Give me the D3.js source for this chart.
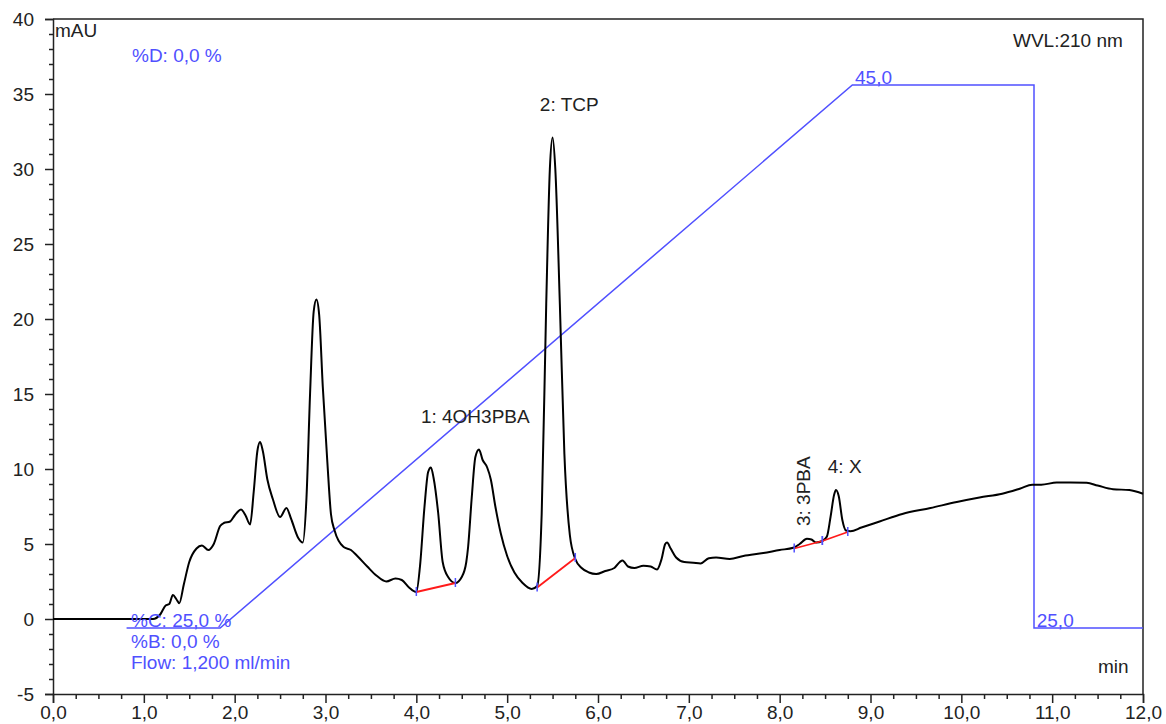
<html lang="en">
<head>
<meta charset="utf-8">
<title>Chromatogram</title>
<script src="https://cdn.jsdelivr.net/npm/d3@7"></script>
<style>
  body { margin: 0; background: white; }
  text { font-family: "Liberation Sans", Arial, sans-serif; }
</style>
</head>
<body></body>
<script type="text/javascript">

//****************************************************************************************************************************//
// Data

var timeMin = [0.00, 1.10, 1.18, 1.24, 1.28, 1.32, 1.36, 1.39, 1.44, 1.50, 1.58, 1.64, 1.71, 1.77, 1.84, 1.88, 1.95, 2.00,
               2.07, 2.12, 2.17, 2.21, 2.25, 2.28, 2.31, 2.36, 2.42, 2.50, 2.57, 2.62, 2.70, 2.75, 2.79, 2.83, 2.87, 2.90,
               2.93, 2.97, 3.02, 3.06, 3.10, 3.20, 3.28, 3.35, 3.46, 3.56, 3.67, 3.77, 3.84, 3.92, 4.00, 4.04, 4.09, 4.13,
               4.16, 4.19, 4.24, 4.29, 4.35, 4.43, 4.50, 4.55, 4.57, 4.61, 4.65, 4.69, 4.73, 4.78, 4.82, 4.87, 4.93, 5.00,
               5.08, 5.17, 5.27, 5.33, 5.38, 5.43, 5.47, 5.50, 5.53, 5.58, 5.63, 5.69, 5.75, 5.82, 5.90, 5.98, 6.08, 6.18,
               6.24, 6.27, 6.33, 6.40, 6.50, 6.58, 6.65, 6.70, 6.74, 6.76, 6.80, 6.86, 6.95, 7.05, 7.13, 7.22, 7.30, 7.45,
               7.60, 7.82, 8.00, 8.15, 8.22, 8.30, 8.35, 8.40, 8.47, 8.52, 8.56, 8.60, 8.62, 8.65, 8.69, 8.73, 8.78, 8.90,
               9.10, 9.35, 9.66, 9.95, 10.20, 10.45, 10.65, 10.78, 10.88, 11.05, 11.20, 11.38, 11.50, 11.67, 11.85, 12.00];

var absMAU  = [0.0, 0.0, 0.3, 0.9, 1.0, 1.6, 1.3, 1.05, 2.3, 3.8, 4.7, 4.9, 4.6, 5.0, 6.2, 6.4, 6.5, 6.9,
               7.3, 6.9, 6.3, 8.5, 11.2, 11.8, 11.2, 9.3, 8.0, 6.8, 7.4, 6.7, 5.4, 5.1, 8.0, 15.0, 20.5, 21.3,
               20.3, 15.5, 10.5, 7.0, 5.9, 4.8, 4.6, 4.2, 3.5, 2.9, 2.5, 2.7, 2.6, 2.1, 1.8, 3.5, 7.5, 9.8,
               10.1, 9.4, 7.1, 3.8, 2.8, 2.4, 2.8, 3.8, 4.8, 8.1, 10.8, 11.3, 10.6, 10.1, 9.3, 7.5, 5.7, 4.2,
               3.1, 2.4, 2.0, 2.2, 7.0, 21.0, 30.0, 32.1, 30.0, 21.0, 11.0, 5.6, 4.0, 3.4, 3.1, 3.0, 3.2, 3.4,
               3.8, 3.9, 3.5, 3.4, 3.55, 3.5, 3.3, 4.0, 5.0, 5.1, 4.7, 4.1, 3.8, 3.75, 3.7, 4.05, 4.1, 4.0,
               4.2, 4.4, 4.6, 4.75, 5.0, 5.35, 5.3, 5.1, 5.2, 5.5, 6.8, 8.3, 8.6, 8.2, 6.6, 5.9, 5.85, 6.1,
               6.5, 7.0, 7.4, 7.8, 8.1, 8.35, 8.7, 8.95, 8.95, 9.1, 9.1, 9.08, 8.9, 8.65, 8.6, 8.35];

// gradient program (%C)
var gradTime = [0.81, 1.84, 8.80, 10.80, 10.80, 12.00];
var gradPct  = [25, 25, 45, 45, 25, 25];

// integrated peaks
var peakNames  = ["1: 4OH3PBA", "2: TCP", "3: 3PBA", "4: X"];
var baseStartT = [4.00, 5.33, 8.16, 8.47];
var baseStartV = [1.8, 2.1, 4.7, 5.2];
var baseEndT   = [4.43, 5.75, 8.47, 8.75];
var baseEndV   = [2.4, 4.07, 5.2, 5.8];

// axes
var xTicks = [0, 1, 2, 3, 4, 5, 6, 7, 8, 9, 10, 11, 12];
var yTicks = [-5, 0, 5, 10, 15, 20, 25, 30, 35, 40];

//****************************************************************************************************************************//
// Canvas

var width = 1166,
    height = 724;

var blue = "#5050ff",
    ink = "#222",
    fontSize = "19px";

var canvas = d3.select("body")
            .append("svg")
            .attr("width", width)
            .attr("height", height);

canvas.append("rect")
        .attr("width", width)
        .attr("height", height)
        .attr("fill", "white");

var x = d3.scaleLinear().domain([0, 12]).range([53, 1143]);
var y = d3.scaleLinear().domain([-5, 40]).range([694, 19]);
var pct = d3.scaleLinear().domain([25, 45]).range([y(-0.6), y(35.6)]);

var comma = function(d){ return d3.format(".1f")(d).replace(".", ","); };

//****************************************************************************************************************************//
// Axes

var minorX = d3.range(0, 12.001, 0.25).filter(function(d){ return Math.abs(d - Math.round(d)) > 0.01; });
var minorY = d3.range(-5, 40.001, 1).filter(function(d){ return d % 5 != 0; });

canvas.append("g")
        .attr("transform", "translate(0," + y(-5) + ")")
        .call(d3.axisBottom(x).tickValues(minorX).tickSize(5).tickFormat(""))
        .call(function(g){ g.select(".domain").remove(); });

canvas.append("g")
        .attr("transform", "translate(" + x(0) + ",0)")
        .call(d3.axisLeft(y).tickValues(minorY).tickSize(4).tickFormat(""))
        .call(function(g){ g.select(".domain").remove(); });

var xAxis = canvas.append("g")
        .attr("transform", "translate(0," + y(-5) + ")")
        .call(d3.axisBottom(x).tickValues(xTicks).tickSize(9).tickPadding(3).tickFormat(comma));

var yAxis = canvas.append("g")
        .attr("transform", "translate(" + x(0) + ",0)")
        .call(d3.axisLeft(y).tickValues(yTicks).tickSize(8).tickPadding(11).tickFormat(function(d){ return String(d); }));

[xAxis, yAxis].forEach(function(g){
    g.selectAll("text").attr("fill", ink).style("font-size", fontSize).style("font-family", "Liberation Sans, Arial");
    g.select(".domain").attr("stroke", ink).attr("stroke-width", 1.5);
});
canvas.selectAll("g line").attr("stroke", ink).attr("stroke-width", 1.5);

// frame top / right
canvas.append("path")
        .attr("d", "M" + x(0) + "," + y(40) + "H" + x(12) + "V" + y(-5))
        .attr("fill", "none")
        .attr("stroke", ink)
        .attr("stroke-width", 1.5);

//****************************************************************************************************************************//
// Gradient profile

var gradLine = d3.line()
        .x(function(d, i){ return x(gradTime[i]); })
        .y(function(d, i){ return pct(gradPct[i]); });

canvas.append("path")
        .attr("d", gradLine(gradTime))
        .attr("fill", "none")
        .attr("stroke", blue)
        .attr("stroke-width", 1.5);

//****************************************************************************************************************************//
// Trace

var trace = d3.line()
        .x(function(d, i){ return x(timeMin[i]); })
        .y(function(d, i){ return y(absMAU[i]); })
        .curve(d3.curveMonotoneX);

canvas.append("path")
        .attr("d", trace(timeMin))
        .attr("fill", "none")
        .attr("stroke", "black")
        .attr("stroke-width", 2);

// integration baselines + delimiters
peakNames.forEach(function(name, i){
    canvas.append("line")
        .attr("x1", x(baseStartT[i])).attr("y1", y(baseStartV[i]))
        .attr("x2", x(baseEndT[i])).attr("y2", y(baseEndV[i]))
        .attr("stroke", "#ff1a1a")
        .attr("stroke-width", 1.8);
    [[baseStartT[i], baseStartV[i]], [baseEndT[i], baseEndV[i]]].forEach(function(p){
        canvas.append("line")
            .attr("x1", x(p[0])).attr("y1", y(p[1]) - 5)
            .attr("x2", x(p[0])).attr("y2", y(p[1]) + 4)
            .attr("stroke", blue)
            .attr("stroke-width", 1.5);
    });
});

//****************************************************************************************************************************//
// Labels

function label(txt, px, py, col, rot){
    var t = canvas.append("text")
        .attr("x", px)
        .attr("y", py)
        .attr("fill", col)
        .style("font-size", fontSize)
        .text(txt);
    if (rot) t.attr("transform", "rotate(-90," + px + "," + py + ")");
    return t;
}

label(peakNames[0], x(4.05), y(13.07), ink);
label(peakNames[1], x(5.36), y(33.9), ink);
label(peakNames[2], x(8.33), y(6.2), ink, true);
label(peakNames[3], x(8.53), y(9.73), ink);

label("mAU", x(0) + 2, 37, ink);
label("WVL:210 nm", 1013, 47, ink);
label("min", 1098, 673, ink);

label("%D: 0,0 %", 132, 62, blue);
label("%C: 25,0 %", 131, 627, blue);
label("%B: 0,0 %", 131, 648, blue);
label("Flow: 1,200 ml/min", 131, 669, blue);
label("45,0", x(8.83), pct(45) - 1, blue);
label("25,0", x(10.83), pct(25) - 1, blue);

</script>
</html>
